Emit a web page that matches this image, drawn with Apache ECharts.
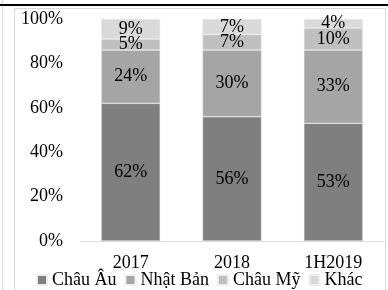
<!DOCTYPE html>
<html>
<head>
<meta charset="utf-8">
<script src="https://cdn.jsdelivr.net/npm/echarts@6/dist/echarts.min.js"></script>
<style>
  html, body { margin: 0; padding: 0; background: #fff; }
  #main { width: 388px; height: 290px; }
</style>
</head>
<body>
<div id="main"></div>
<script>
// periods and market share (%) by region
var periods = ["2017", "2018", "1H2019"];
var chauAu = [62, 56, 53];
var nhatBan = [24, 30, 33];
var chauMy = [5, 7, 10];
var khac = [9, 7, 4];

var names = ["Châu Âu", "Nhật Bản", "Châu Mỹ", "Khác"];
var colors = ["#7f7f7f", "#a5a5a5", "#bfbfbf", "#d9d9d9"];
var font = "'Liberation Serif', 'Times New Roman', serif";

var chart = echarts.init(document.getElementById("main"));

function seriesFor(i, data) {
    return {
        name: names[i],
        type: "bar",
        stack: "total",
        barWidth: 59,
        data: data,
        itemStyle: { color: colors[i], borderColor: "#eeeeee", borderWidth: 0.5 },
        label: {
            show: true,
            position: "inside",
            formatter: "{c}%",
            color: "#000",
            fontFamily: font,
            fontSize: 18
        }
    };
}

var option = {
    animation: false,
    color: colors,
    graphic: [
        // frame around the chart, as in the source document
        { type: "line", shape: { x1: 2.5, y1: 0, x2: 2.5, y2: 290 }, style: { stroke: "#d9d9d9", lineWidth: 1 } },
        { type: "line", shape: { x1: 0, y1: 5, x2: 388, y2: 5 }, style: { stroke: "#000", lineWidth: 2 } },
        { type: "rect", shape: { x: 14.5, y: 8.5, width: 371, height: 290 }, style: { fill: "none", stroke: "#d9d9d9", lineWidth: 1 } }
    ],
    grid: { left: 80, right: 4, top: 19, height: 222 },
    legend: {
        data: names,
        left: 36,
        top: 271,
        padding: 0,
        itemWidth: 10,
        itemHeight: 10,
        itemGap: 8,
        icon: "rect",
        textStyle: { color: "#000", fontFamily: font, fontSize: 18 }
    },
    xAxis: {
        type: "category",
        data: periods,
        axisLine: { lineStyle: { color: "#d9d9d9", width: 1 } },
        axisTick: { show: false },
        axisLabel: { color: "#000", fontFamily: font, fontSize: 18, margin: 13 }
    },
    yAxis: {
        type: "value",
        min: 0,
        max: 100,
        interval: 20,
        splitLine: { show: false },
        axisLine: { show: false },
        axisTick: { show: false },
        axisLabel: { color: "#000", fontFamily: font, fontSize: 18, margin: 17, formatter: "{value}%" }
    },
    series: [
        seriesFor(0, chauAu),
        seriesFor(1, nhatBan),
        seriesFor(2, chauMy),
        seriesFor(3, khac)
    ]
};

chart.setOption(option);
</script>
</body>
</html>
